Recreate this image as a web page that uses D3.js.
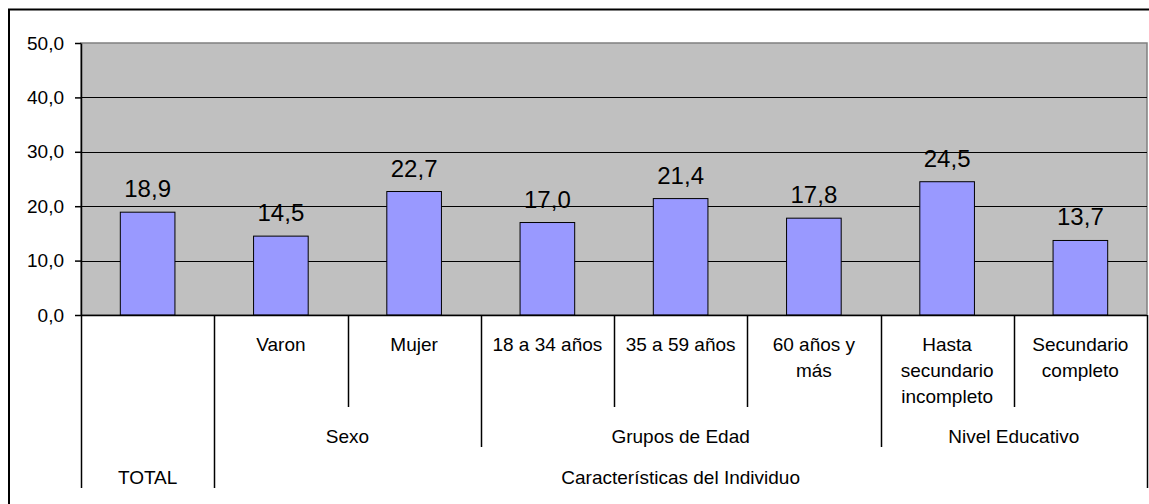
<!DOCTYPE html>
<html>
<head>
<meta charset="utf-8">
<script src="https://cdn.jsdelivr.net/npm/d3@7"></script>
<style>
  body { margin: 0; background: #fff; }
  svg { display: block; }
  text { font-family: "Liberation Sans", Arial, sans-serif; fill: #000; }
</style>
</head>
<body>
<svg width="1149" height="504"></svg>
<script>
// leaf labels (one entry per line)
var categories = [
    [""],
    ["Varon"],
    ["Mujer"],
    ["18 a 34 años"],
    ["35 a 59 años"],
    ["60 años y", "más"],
    ["Hasta", "secundario", "incompleto"],
    ["Secundario", "completo"]
];
var values = [18.9, 14.5, 22.7, 17.0, 21.4, 17.8, 24.5, 13.7];

// second level: [label, first index, last index]
var groups = [
    ["Sexo", 1, 2],
    ["Grupos de Edad", 3, 5],
    ["Nivel Educativo", 6, 7]
];
// top level
var topGroups = [
    ["TOTAL", 0, 0],
    ["Características del Individuo", 1, 7]
];
var yTicks = [0, 10, 20, 30, 40, 50];

var svg = d3.select("svg");
var plotLeft = 81, plotRight = 1147, plotTop = 43, plotBottom = 315;

var x = d3.scaleBand()
    .domain(d3.range(values.length))
    .range([plotLeft, plotRight]);
var y = d3.scaleLinear()
    .domain([0, 50])
    .range([plotBottom, plotTop]);

var fmt = d => d3.format(".1f")(d).replace(".", ",");

// outer frame
svg.append("rect")
    .attr("x", 9).attr("y", 9.5)
    .attr("width", 1200).attr("height", 600)
    .attr("fill", "none")
    .attr("stroke", "#000")
    .attr("stroke-width", 2);

// plot area
svg.append("rect")
    .attr("x", plotLeft).attr("y", plotTop)
    .attr("width", plotRight - plotLeft).attr("height", plotBottom - plotTop)
    .attr("fill", "#c0c0c0")
    .attr("stroke", "#808080")
    .attr("stroke-width", 1.5);

// gridlines
svg.selectAll(".grid")
    .data(yTicks.filter(d => d > 0 && d < 50))
    .enter()
    .append("line")
    .attr("x1", plotLeft).attr("x2", plotRight)
    .attr("y1", d => Math.round(y(d)) + 0.5)
    .attr("y2", d => Math.round(y(d)) + 0.5)
    .attr("stroke", "#000")
    .attr("stroke-width", 1.2);

// bars
var bw = x.bandwidth() * 0.41;
svg.selectAll(".bar")
    .data(values)
    .enter()
    .append("rect")
    .attr("x", (d, i) => x(i) + (x.bandwidth() - bw) / 2)
    .attr("y", d => y(d))
    .attr("width", bw)
    .attr("height", d => plotBottom - y(d))
    .attr("fill", "#9999ff")
    .attr("stroke", "#000")
    .attr("stroke-width", 1);

// value labels
svg.selectAll(".val")
    .data(values)
    .enter()
    .append("text")
    .attr("x", (d, i) => x(i) + x.bandwidth() / 2)
    .attr("y", d => y(d) - 15)
    .attr("text-anchor", "middle")
    .attr("font-size", 24)
    .text(d => fmt(d));

// y axis
var yAxis = svg.append("g")
    .attr("transform", "translate(" + plotLeft + ",0)")
    .call(d3.axisLeft(y).tickValues(yTicks).tickFormat(fmt).tickSize(6).tickSizeOuter(0).tickPadding(11));
yAxis.select(".domain").attr("stroke", "#000").attr("stroke-width", 1.5);
yAxis.selectAll(".tick line").attr("stroke", "#000").attr("stroke-width", 1.5);
yAxis.selectAll(".tick text")
    .attr("font-size", 19)
    .attr("font-family", "Liberation Sans, Arial, sans-serif")
    .attr("fill", "#000");

// x axis line
svg.append("line")
    .attr("x1", plotLeft).attr("x2", plotRight)
    .attr("y1", plotBottom + 0.5).attr("y2", plotBottom + 0.5)
    .attr("stroke", "#000")
    .attr("stroke-width", 1.5);

// category divider lines
var leafEnd = 407, groupEnd = 447, topEnd = 488;
var edges = d3.range(values.length + 1).map(function(i) {
    var xx = i < values.length ? x(i) : plotRight;
    var end = leafEnd;
    if (topGroups.some(g => g[1] === i || g[2] + 1 === i)) end = topEnd;
    else if (groups.some(g => g[1] === i || g[2] + 1 === i)) end = groupEnd;
    return [xx, end];
});
svg.selectAll(".edge")
    .data(edges)
    .enter()
    .append("line")
    .attr("x1", d => Math.round(d[0]) + 0.5)
    .attr("x2", d => Math.round(d[0]) + 0.5)
    .attr("y1", plotBottom)
    .attr("y2", d => d[1])
    .attr("stroke", "#000")
    .attr("stroke-width", 1.5);

// leaf labels
var leaf = svg.selectAll(".leaf")
    .data(categories)
    .enter()
    .append("text")
    .attr("text-anchor", "middle")
    .attr("font-size", 19);
leaf.selectAll("tspan")
    .data((d, i) => d.map(t => [t, i]))
    .enter()
    .append("tspan")
    .attr("x", d => x(d[1]) + x.bandwidth() / 2)
    .attr("y", (d, j) => 350.5 + j * 26)
    .text(d => d[0]);

// group labels
function spanCenter(g) {
    return (x(g[1]) + x(g[2]) + x.bandwidth()) / 2;
}
svg.selectAll(".grp")
    .data(groups)
    .enter()
    .append("text")
    .attr("x", spanCenter)
    .attr("y", 442.5)
    .attr("text-anchor", "middle")
    .attr("font-size", 19)
    .text(d => d[0]);

svg.selectAll(".topg")
    .data(topGroups)
    .enter()
    .append("text")
    .attr("x", spanCenter)
    .attr("y", 484)
    .attr("text-anchor", "middle")
    .attr("font-size", 19)
    .text(d => d[0]);
</script>
</body>
</html>
